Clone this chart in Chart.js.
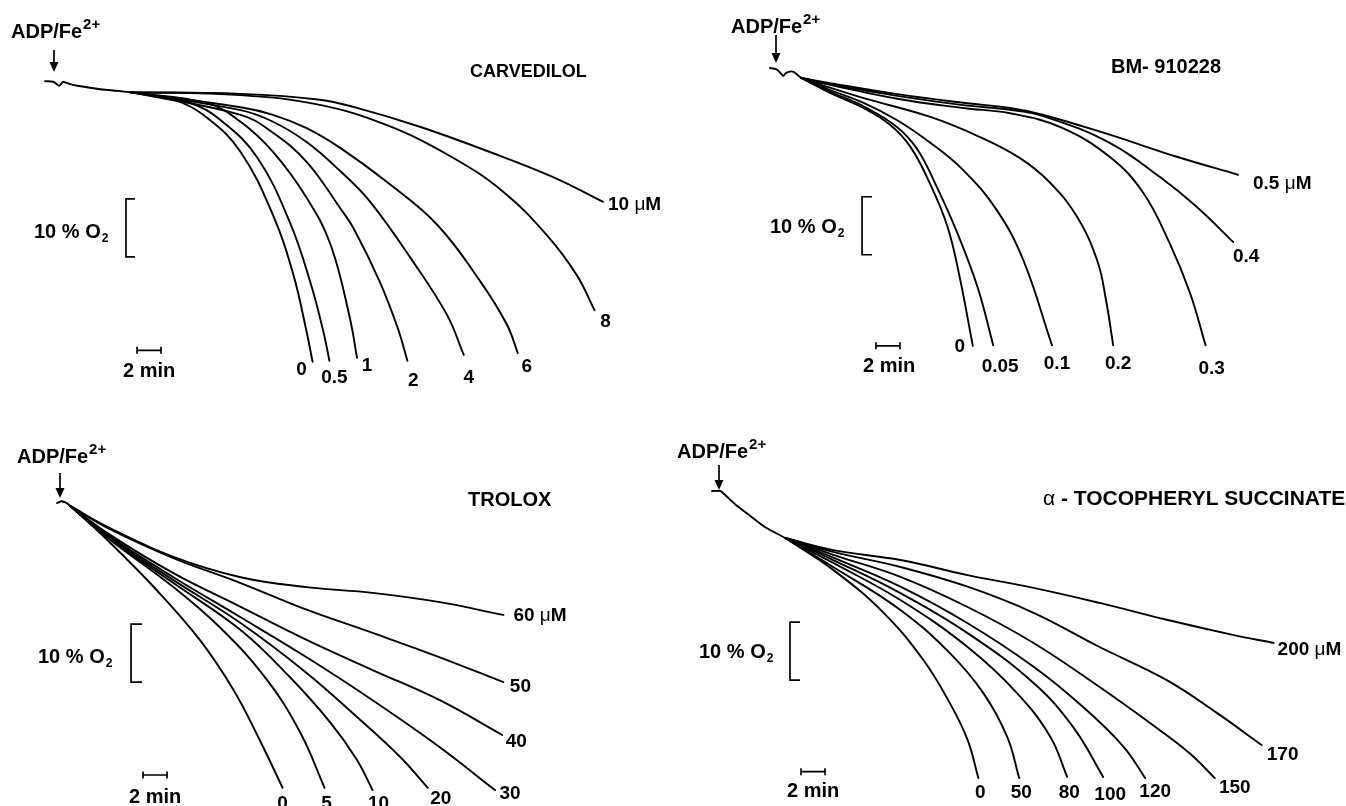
<!DOCTYPE html>
<html><head><meta charset="utf-8">
<script src="https://cdn.jsdelivr.net/npm/chart.js@4.4.1/dist/chart.umd.min.js"></script>
<style>
html,body{margin:0;padding:0;background:#fff;}
#wrap{position:relative;width:1346px;height:806px;overflow:hidden;background:#fff;}
canvas{position:absolute;}
</style></head><body>
<div id="wrap">
<canvas id="p1" width="673" height="403" style="left:0;top:0"></canvas>
<canvas id="p2" width="673" height="403" style="left:673px;top:0"></canvas>
<canvas id="p3" width="673" height="403" style="left:0;top:403px"></canvas>
<canvas id="p4" width="673" height="403" style="left:673px;top:403px"></canvas>
</div>
<script>
// ===== DATA: time (min after ADP/Fe2+) vs O2 (% of start) =====
// CARVEDILOL
const carvLabels = ['0','0.5','1','2','4','6','8','10 μM'];
const carvTrace = [[0,99.8],[0.7,99.7],[1.2,99.0],[1.5,99.7],[2.1,99.3],[2.7,99.0],[4.6,98.4],[7.1,97.9]];
const carv0  = [[7.1,97.9],[10.7,96.6],[13.5,93.5],[16.3,87.6],[19.0,76.7],[20.7,66.4],[21.8,56.6],[22.3,51.4]];
const carv05 = [[7.1,97.9],[12.1,96.0],[14.8,92.8],[17.7,86.6],[20.4,75.5],[22.1,65.2],[23.2,56.6],[23.7,51.6]];
const carv1  = [[7.1,97.9],[13.5,96.0],[16.3,92.8],[19.0,87.6],[21.8,79.7],[23.8,71.6],[25.4,59.0],[26.0,52.1]];
const carv2  = [[7.1,97.9],[16.3,94.0],[19.0,90.9],[21.8,85.9],[24.6,77.9],[25.8,74.1],[27.9,65.2],[29.4,57.2],[30.2,51.6]];
const carv4  = [[7.1,97.9],[16.3,94.8],[19.0,92.8],[21.8,89.3],[24.6,84.3],[27.1,79.0],[30.7,68.6],[33.5,59.5],[34.9,52.6]];
const carv6  = [[7.1,97.9],[16.3,95.3],[19.0,94.0],[21.8,91.7],[24.6,88.3],[28.5,82.4],[32.7,75.0],[36.3,65.2],[38.5,57.8],[39.4,52.9]];
const carv8  = [[7.1,97.9],[16.3,97.4],[22.9,95.7],[28.5,92.2],[34.0,86.6],[38.2,80.7],[41.8,73.3],[44.3,66.4],[45.8,60.3]];
const carv10 = [[7.1,97.9],[16.3,97.6],[22.9,96.6],[26.0,95.2],[31.3,91.9],[36.8,87.8],[42.3,83.3],[46.5,79.0]];

// BM-910228
const bmLabels = ['0','0.05','0.1','0.2','0.3','0.4','0.5 μM'];
const bmTrace = [[0,100],[0.5,99.8],[0.8,99.3],[1.1,98.6],[1.3,99.1],[1.7,99.4],[2.0,99.3],[2.3,98.8],[2.6,98.3]];
const bm0   = [[2.6,98.3],[5.0,95.7],[7.8,93.1],[10.0,90.2],[11.7,86.4],[13.3,80.2],[14.8,72.6],[15.8,64.0],[16.9,52.1]];
const bm005 = [[2.6,98.3],[5.0,95.9],[7.8,93.4],[10.6,89.8],[12.3,85.9],[13.9,79.5],[15.6,71.6],[17.3,62.2],[18.6,52.2]];
const bm01  = [[2.6,98.3],[5.0,96.2],[7.8,94.0],[10.6,91.0],[13.3,87.2],[16.1,82.4],[18.9,75.5],[21.1,66.9],[23.5,52.2]];
const bm02  = [[2.6,98.3],[5.0,96.6],[7.8,94.8],[13.3,91.6],[17.5,88.1],[20.8,84.5],[23.3,80.3],[25.6,74.3],[27.3,66.6],[28.0,60.0],[28.6,52.2]];
const bm03  = [[2.6,98.3],[5.0,97.1],[10.6,94.7],[16.1,93.1],[20.0,92.2],[24.2,89.8],[28.3,84.7],[31.1,78.5],[33.3,69.8],[35.0,61.2],[36.3,52.2]];
const bm04  = [[2.6,98.3],[5.0,97.2],[10.6,95.2],[16.1,93.6],[20.0,92.8],[22.8,91.7],[28.3,87.1],[32.5,81.2],[35.6,76.0],[38.6,70.0]];
const bm05  = [[2.6,98.3],[5.0,97.4],[10.6,95.5],[16.1,94.0],[20.0,93.1],[22.8,91.9],[28.3,88.5],[33.9,84.7],[39.0,81.6]];

// TROLOX
const trolLabels = ['0','5','10','20','30','40','50','60 μM'];
const trolTrace = [[0,100],[0.4,100.3],[0.8,100],[1.1,99.5]];
const trol0  = [[1.1,99.5],[4.2,93.6],[8.3,85.0],[11.9,76.4],[14.7,67.8],[16.9,59.1],[18.8,50.9]];
const trol5  = [[1.1,99.5],[4.2,94.0],[9.7,85.5],[13.8,78.1],[17.5,69.5],[20.3,60.3],[22.3,50.9]];
const trol10 = [[1.1,99.5],[4.2,94.1],[9.7,86.2],[15.3,78.1],[19.4,70.0],[22.8,62.1],[25.0,55.7],[26.3,50.5]];
const trol20 = [[1.1,99.5],[4.2,94.3],[9.7,86.7],[15.3,79.3],[20.8,70.7],[25.0,63.1],[28.6,56.2],[30.9,50.9]];
const trol30 = [[1.1,99.5],[4.2,94.5],[9.7,87.2],[15.3,80.3],[20.8,73.4],[26.3,66.0],[31.9,57.9],[36.5,50.5]];
const trol40 = [[1.1,99.5],[4.2,94.8],[9.7,87.9],[15.3,82.1],[20.8,76.4],[26.3,71.2],[31.9,66.0],[37.1,60.0]];
const trol50 = [[1.1,99.5],[4.2,95.7],[9.7,90.5],[15.3,86.2],[20.8,81.6],[26.3,77.6],[31.9,73.4],[37.2,69.1]];
const trol60 = [[1.1,99.5],[4.2,95.9],[9.7,90.7],[15.3,87.2],[20.8,85.5],[26.3,84.5],[31.9,82.9],[37.2,80.7]];

// alpha-TOCOPHERYL SUCCINATE
const tocLabels = ['0','50','80','100','120','150','170','200 μM'];
const tocTrace = [[0,100],[0.7,100],[1.1,99.3],[2.1,97.4],[3.2,95.7],[4.4,93.8],[6.1,91.9]];
const toc0   = [[6.1,91.9],[10.1,86.4],[14.3,79.0],[17.6,70.9],[19.8,63.5],[21.3,57.1],[22.2,50.5]];
const toc50  = [[6.1,91.9],[10.1,86.9],[15.7,79.5],[19.8,72.1],[22.6,65.2],[24.6,57.6],[25.6,50.5]];
const toc80  = [[6.1,91.9],[10.1,87.6],[15.7,81.2],[21.3,73.1],[25.4,65.2],[28.2,57.6],[29.6,50.7]];
const toc100 = [[6.1,91.9],[10.1,88.1],[15.7,82.4],[21.3,75.5],[26.8,66.9],[30.1,59.3],[32.6,50.7]];
const toc120 = [[6.1,91.9],[10.1,88.5],[15.7,83.5],[21.3,77.2],[26.8,69.7],[30.9,62.8],[34.3,55.9],[36.1,50.5]];
const toc150 = [[6.1,91.9],[10.1,89.0],[15.7,85.2],[21.3,80.0],[26.8,73.8],[32.3,66.2],[36.5,60.0],[39.8,54.8],[41.9,50.5]];
const toc170 = [[6.1,91.9],[10.1,89.5],[15.7,86.9],[21.3,83.5],[26.8,79.0],[32.3,73.1],[37.9,67.4],[42.1,61.7],[45.8,56.2]];
const toc200 = [[6.1,91.9],[10.1,89.8],[15.7,88.1],[21.3,85.5],[26.8,83.3],[32.3,80.7],[37.9,77.8],[43.4,75.2],[46.8,73.8]];

// ===== LAYOUT / STYLE =====
const W = 673, H = 403, KX = 12, KY = 5.8;
const FONT = '"Liberation Sans", Arial, Helvetica, sans-serif';

function drawRich(ctx, text, x, y, align, size){
  const rs = []; let cur = '', g = null;
  for (const ch of text){ const isG = /[μα]/.test(ch); if (g === null) g = isG;
    if (isG !== g){ rs.push([cur, g]); cur = ''; g = isG; } cur += ch; }
  if (cur) rs.push([cur, g]);
  const fonts = rs.map(r => r[1] ? `${size}px ${FONT}` : `bold ${size}px ${FONT}`);
  let w = 0; const ws = rs.map((r,i) => { ctx.font = fonts[i]; const m = ctx.measureText(r[0]).width; w += m; return m; });
  let cx = align === 'center' ? x - w/2 : (align === 'right' ? x - w : x);
  ctx.textAlign = 'left'; ctx.textBaseline = 'alphabetic';
  rs.forEach((r,i) => { ctx.font = fonts[i]; ctx.fillText(r[0], cx, y); cx += ws[i]; });
  return w;
}

const annotPlugin = {
  id: 'annot',
  afterDatasetsDraw(chart, args, o){
    const ctx = chart.ctx, xs = chart.scales.x, ys = chart.scales.y;
    ctx.save(); ctx.fillStyle = '#000'; ctx.strokeStyle = '#000'; ctx.lineCap = 'butt';
    // ADP/Fe2+
    let w = drawRich(ctx, 'ADP/Fe', o.adp[0], o.adp[1], 'left', 20);
    ctx.font = `bold 15px ${FONT}`; ctx.fillText('2+', o.adp[0] + w + 1, o.adp[1] - 9);
    // arrow
    const [ax, ay1, ay2] = o.arrow;
    ctx.lineWidth = 1.7; ctx.beginPath(); ctx.moveTo(ax, ay1); ctx.lineTo(ax, ay2 - 8); ctx.stroke();
    ctx.beginPath(); ctx.moveTo(ax - 4.5, ay2 - 10); ctx.lineTo(ax + 4.5, ay2 - 10); ctx.lineTo(ax, ay2); ctx.closePath(); ctx.fill();
    // title
    drawRich(ctx, o.title, o.titlePos[0], o.titlePos[1], 'left', o.titleSize);
    // 10 % O2 bracket (through scales)
    const bx = xs.getPixelForValue(o.bracket[0]);
    const by1 = ys.getPixelForValue(o.bracket[1]), by2 = ys.getPixelForValue(o.bracket[1] - 10);
    ctx.lineWidth = 1.7; ctx.beginPath();
    ctx.moveTo(bx + o.bracketTick, by1); ctx.lineTo(bx, by1); ctx.lineTo(bx, by2); ctx.lineTo(bx + o.bracketTick, by2); ctx.stroke();
    w = drawRich(ctx, '10 % O', o.o2Pos[0], o.o2Pos[1], 'left', 20);
    ctx.font = `bold 12px ${FONT}`; ctx.fillText('2', o.o2Pos[0] + w + 1, o.o2Pos[1] + 4);
    // 2 min bar (through scales)
    const tx1 = xs.getPixelForValue(o.timeBar[0]), tx2 = xs.getPixelForValue(o.timeBar[0] + 2), ty = ys.getPixelForValue(o.timeBar[1]);
    ctx.beginPath(); ctx.moveTo(tx1, ty); ctx.lineTo(tx2, ty);
    ctx.moveTo(tx1, ty - 3.5); ctx.lineTo(tx1, ty + 3.5); ctx.moveTo(tx2, ty - 3.5); ctx.lineTo(tx2, ty + 3.5); ctx.stroke();
    drawRich(ctx, '2 min', o.minPos[0], o.minPos[1], 'left', 20);
    // curve end labels
    chart.data.datasets.forEach((ds, i) => {
      if (ds.endLabel == null) return;
      const meta = chart.getDatasetMeta(i); const p = meta.data[meta.data.length - 1];
      const off = ds.labelOffset;
      drawRich(ctx, ds.endLabel, p.x + off[0], p.y + off[1], off[2] || 'center', 19);
    });
    ctx.restore();
  }
};

const panels = [
  { id:'p1', x0:45, y0:80, trace:carvTrace, curves:[carv0,carv05,carv1,carv2,carv4,carv6,carv8,carv10], labels:carvLabels,
    offsets:[[-11,13],[5,22],[10,13],[6,25],[5,28],[9,19],[11,17],[5,8,'left']],
    annot:{adp:[11,38], arrow:[54,50,72], title:'CARVEDILOL', titleSize:18, titlePos:[470,77], bracket:[6.75,79.5], bracketTick:9,
           o2Pos:[34,238], timeBar:[7.67,53.4], minPos:[123,377]} },
  { id:'p2', x0:97, y0:68, trace:bmTrace, curves:[bm0,bm005,bm01,bm02,bm03,bm04,bm05], labels:bmLabels,
    offsets:[[-13,6],[7,27],[5,24],[5,24],[6,29],[13,20],[15,14,'left']],
    annot:{adp:[58,33], arrow:[103,35,63], title:'BM- 910228', titleSize:20, titlePos:[438,73], bracket:[7.67,77.8], bracketTick:10,
           o2Pos:[97,233], timeBar:[8.83,52.1], minPos:[190,372]} },
  { id:'p3', x0:57, y0:100, trace:trolTrace, curves:[trol0,trol5,trol10,trol20,trol30,trol40,trol50,trol60], labels:trolLabels,
    offsets:[[0,21],[2,21],[6,19],[13,16],[15,9],[14,12],[17,10],[10,6,'left']],
    annot:{adp:[17,60], arrow:[60,70,95], title:'TROLOX', titleSize:20, titlePos:[468,103], bracket:[6.17,79.1], bracketTick:11,
           o2Pos:[38,260], timeBar:[7.17,53.1], minPos:[129,400]} },
  { id:'p4', x0:39, y0:88, trace:tocTrace, curves:[toc0,toc50,toc80,toc100,toc120,toc150,toc170,toc200], labels:tocLabels,
    offsets:[[2,20],[2,20],[2,21],[7,23],[10,19],[20,15],[21,15],[4,12,'left']],
    annot:{adp:[4,55], arrow:[46,62,87], title:'α - TOCOPHERYL SUCCINATE', titleSize:21, titlePos:[370,102], bracket:[6.5,77.4], bracketTick:10,
           o2Pos:[26,255], timeBar:[7.42,51.6], minPos:[114,394]} }
];

const toXY = arr => arr.map(p => ({x:p[0], y:p[1]}));
const lineStyle = {showLine:true, pointRadius:0, pointHoverRadius:0, borderColor:'#000', borderWidth:1.9,
                   fill:false, tension:0.4, borderCapStyle:'round', borderJoinStyle:'round'};

panels.forEach(pn => {
  const datasets = [Object.assign({}, lineStyle, {label:'trace', data:toXY(pn.trace), tension:0.15})];
  pn.curves.forEach((c, i) => {
    datasets.push(Object.assign({label:pn.labels[i], data:toXY(c), endLabel:pn.labels[i], labelOffset:pn.offsets[i]}, lineStyle));
  });
  new Chart(document.getElementById(pn.id), {
    type:'scatter',
    data:{datasets},
    options:{
      responsive:false, animation:false, devicePixelRatio:1,
      layout:{padding:0},
      elements:{line:{capBezierPoints:true}},
      scales:{
        x:{type:'linear', display:false, min:-pn.x0/KX, max:(W-pn.x0)/KX},
        y:{type:'linear', display:false, min:100-(H-pn.y0)/KY, max:100+pn.y0/KY}
      },
      plugins:{legend:{display:false}, tooltip:{enabled:false}, annot:pn.annot},
      events:[]
    },
    plugins:[annotPlugin]
  });
});
</script>
</body></html>
